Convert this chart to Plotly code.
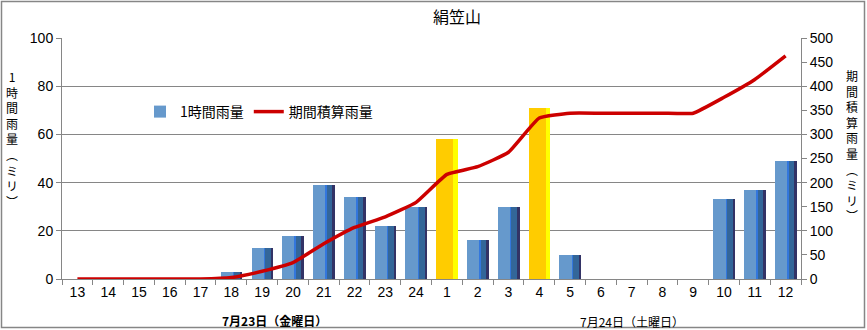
import plotly.graph_objects as go

# ---------------- data ----------------
hours = ["13", "14", "15", "16", "17", "18", "19", "20", "21", "22", "23", "24",
         "1", "2", "3", "4", "5", "6", "7", "8", "9", "10", "11", "12"]
hourly = [0, 0, 0, 0, 0, 3, 13, 18, 39, 34, 22, 30,
          58, 16, 30, 71, 10, 0, 0, 0, 0, 33, 37, 49]
cumulative = [0, 0, 0, 0, 0, 3, 16, 34, 73, 107, 129, 159,
              217, 233, 263, 334, 344, 344, 344, 344, 344, 377, 414, 463]
highlight_hours = ["1", "4"]
left_ticks = [0, 20, 40, 60, 80, 100]
right_ticks = [0, 50, 100, 150, 200, 250, 300, 350, 400, 450, 500]
title_text = "絹笠山"
bar_name = "1時間雨量"
line_name = "期間積算雨量"
left_title_chars = ["1", "時", "間", "雨", "量", "︵", "ミ", "リ", "︶"]
right_title_chars = ["期", "間", "積", "算", "雨", "量", "︵", "ミ", "リ", "︶"]
day_labels = ["7月23日（金曜日）", "7月24日（土曜日）"]

# ---------------- layout helpers ----------------
W, H = 867, 330
PL, PR, PT, PB = 62, 801, 38, 279


def px(x):
    return (x - PL) / (PR - PL)


def py(y):
    return (PB - y) / (PB - PT)


# bar "3D" slices: (start, end) in category units, colours for normal / highlighted
slices = [(-0.345, 0.065, "#6699CC", "#FFCC00"),
          (0.065, 0.097, "#3377DD", "#FFCC00"),
          (0.097, 0.23, "#336699", "#FFCC00"),
          (0.23, 0.276, "#336699", "#FFFF00"),
          (0.276, 0.36, "#333366", "#FFFF00")]

fig = go.Figure()
for i, (s0, s1, cn, ch) in enumerate(slices):
    colors = [ch if h in highlight_hours else cn for h in hours]
    fig.add_trace(go.Bar(
        x=hours, y=hourly, offset=s0, width=s1 - s0,
        marker=dict(color=colors, line=dict(width=0)),
        name=bar_name, showlegend=(i == 0), legendgroup="bar",
        hoverinfo="x+y",
    ))

fig.add_trace(go.Scatter(
    x=hours, y=cumulative, yaxis="y2", mode="lines",
    line=dict(color="#CC0000", width=3.5, shape="spline", smoothing=0.4),
    name=line_name,
))

font_jp = "Noto Sans CJK JP"
font_num = "Liberation Sans, Arial"
gray = "#868686"

annotations = [
    dict(text="<br>".join(left_title_chars), x=px(12), y=py(66), xref="paper", yref="paper",
         showarrow=False, font=dict(family=font_jp, size=12, color="black"),
         xanchor="center", yanchor="top", align="center"),
    dict(text="<br>".join(right_title_chars), x=px(852), y=py(65), xref="paper", yref="paper",
         showarrow=False, font=dict(family=font_jp, size=12, color="black"),
         xanchor="center", yanchor="top", align="center"),
    dict(text="<b>" + day_labels[0] + "</b>", x=px(274), y=py(320),
         xref="paper", yref="paper", showarrow=False,
         font=dict(family=font_jp, size=12, color="black"),
         xanchor="center", yanchor="middle"),
    dict(text=day_labels[1], x=px(632), y=py(321),
         xref="paper", yref="paper", showarrow=False,
         font=dict(family=font_jp, size=12, color="black"),
         xanchor="center", yanchor="middle"),
]

fig.update_layout(
    width=W, height=H,
    margin=dict(l=PL, r=W - PR, t=PT, b=H - PB, pad=0),
    paper_bgcolor="white", plot_bgcolor="white",
    barmode="overlay", bargap=0,
    title=dict(text=title_text, x=457 / W, y=1 - 17 / H, xanchor="center", yanchor="middle",
               font=dict(family=font_jp, size=16, color="black")),
    showlegend=True,
    legend=dict(orientation="h", x=px(140), y=py(112), xanchor="left", yanchor="middle",
                bgcolor="rgba(0,0,0,0)", font=dict(family=font_jp, size=14, color="black"),
                traceorder="normal", itemwidth=30),
    xaxis=dict(type="category", range=[-0.5, 23.5], tickson="boundaries",
               ticks="outside", ticklen=5, tickcolor=gray, showline=True, linecolor=gray,
               showgrid=False, tickfont=dict(family=font_num, size=14, color="black")),
    yaxis=dict(range=[0, 100], tickvals=left_ticks, showgrid=True, gridcolor=gray,
               gridwidth=1, showline=True, linecolor=gray, ticks="outside", ticklen=5,
               tickcolor=gray, zeroline=False,
               tickfont=dict(family=font_num, size=14, color="black")),
    yaxis2=dict(range=[0, 500], tickvals=right_ticks, overlaying="y", side="right",
                showgrid=False, showline=True, linecolor=gray, ticks="outside", ticklen=5,
                tickcolor=gray, zeroline=False,
                tickfont=dict(family=font_num, size=14, color="black")),
    annotations=annotations,
    shapes=[dict(type="rect", xref="paper", yref="paper",
                 x0=px(1.5), x1=px(864.5), y0=py(327.5), y1=py(1.5),
                 line=dict(color=gray, width=1.5), fillcolor="rgba(0,0,0,0)", layer="below")],
)

fig.write_html("out.html")
